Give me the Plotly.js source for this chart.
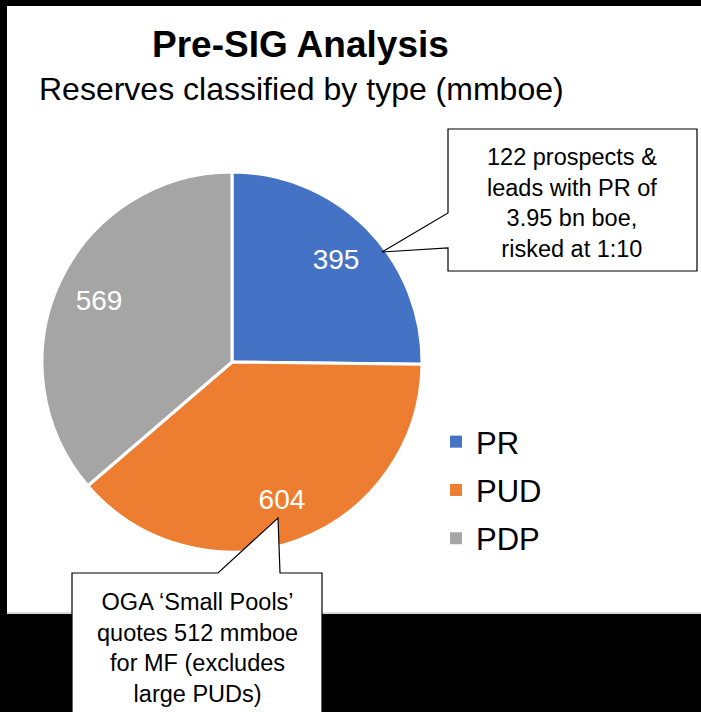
<!DOCTYPE html>
<html>
<head>
<meta charset="utf-8">
<script src="https://cdn.plot.ly/plotly-3.0.1.min.js"></script>
<style>
  html, body { margin: 0; padding: 0; background: #000; }
  #chart { width: 701px; height: 712px; }
</style>
</head>
<body>
<div id="chart"></div>
<script>
const labels = ['PR', 'PUD', 'PDP'];
const values = [395, 604, 569];
const colors = ['#4472C4', '#ED7D31', '#A5A5A5'];

const chartTitle = 'Pre-SIG Analysis';
const chartSubtitle = 'Reserves classified by type (mmboe)';
const notePR = ['122 prospects &', 'leads with PR of', '3.95 bn boe,', 'risked at 1:10'];
const notePUD = ['OGA \u2018Small Pools\u2019', 'quotes 512 mmboe', 'for MF (excludes', 'large PUDs)'];

const W = 701, H = 712;
const fx = (x) => x / W;
const fy = (y) => 1 - y / H;
const path = (pts) => 'M' + pts.map(p => fx(p[0]) + ',' + fy(p[1])).join('L') + 'Z';

const font = 'Liberation Sans, Arial, sans-serif';
const pieDomain = { x: [fx(42), fx(422)], y: [fy(552), fy(172)] };

// the pie itself
const pie = {
  type: 'pie',
  labels: labels,
  values: values,
  sort: false,
  direction: 'clockwise',
  rotation: 0,
  marker: { colors: colors, line: { color: '#fff', width: 3 } },
  textinfo: 'none',
  hoverinfo: 'label+value',
  showlegend: false,
  domain: pieDomain
};

// same pie again, see-through, with a hole so the values sit further out
const pieText = {
  type: 'pie',
  labels: labels,
  values: values,
  sort: false,
  direction: 'clockwise',
  rotation: 0,
  hole: 0.54,
  marker: { colors: ['rgba(0,0,0,0)', 'rgba(0,0,0,0)', 'rgba(0,0,0,0)'], line: { width: 0 } },
  textinfo: 'value',
  textposition: 'inside',
  insidetextorientation: 'horizontal',
  insidetextfont: { color: '#fff', size: 28, family: font },
  hoverinfo: 'skip',
  showlegend: false,
  domain: pieDomain
};

// legend entries
const legendItems = labels.map((l, i) => ({
  type: 'scatter',
  x: [null], y: [null],
  mode: 'markers',
  name: l,
  legendgroup: l,
  marker: { symbol: 'square', size: 12, color: colors[i] },
  hoverinfo: 'skip'
}));

const layout = {
  width: W,
  height: H,
  margin: { l: 0, r: 0, t: 0, b: 0 },
  paper_bgcolor: '#000',
  plot_bgcolor: 'rgba(0,0,0,0)',
  font: { family: font, color: '#000' },
  xaxis: { visible: false },
  yaxis: { visible: false },
  showlegend: true,
  legend: {
    x: fx(436), y: fy(415), xanchor: 'left', yanchor: 'top',
    font: { size: 31, color: '#000', family: font },
    tracegroupgap: 5,
    bgcolor: 'rgba(0,0,0,0)'
  },
  shapes: [
    { type: 'rect', xref: 'paper', yref: 'paper', layer: 'below',
      x0: fx(7), x1: fx(701), y0: fy(614), y1: fy(6),
      fillcolor: '#fff', line: { width: 0 } },
    { type: 'line', xref: 'paper', yref: 'paper', layer: 'below',
      x0: fx(7), x1: fx(701), y0: fy(613), y1: fy(613),
      line: { color: '#d9d9d9', width: 2 } },
    { type: 'path', xref: 'paper', yref: 'paper',
      path: path([[448, 129], [448, 213], [382, 252], [448, 248], [448, 271], [697, 271], [697, 129]]),
      fillcolor: '#fff', line: { color: '#000', width: 1.2 } },
    { type: 'path', xref: 'paper', yref: 'paper',
      path: path([[72, 573], [218, 573], [278, 518], [280, 573], [322, 573], [322, 730], [72, 730]]),
      fillcolor: '#fff', line: { color: '#000', width: 1.2 } }
  ],
  annotations: [
    { xref: 'paper', yref: 'paper', x: fx(300), y: fy(45), xanchor: 'center', yanchor: 'middle', showarrow: false,
      text: '<b>' + chartTitle + '</b>', font: { size: 37, color: '#000', family: font } },
    { xref: 'paper', yref: 'paper', x: fx(301), y: fy(89), xanchor: 'center', yanchor: 'middle', showarrow: false,
      text: chartSubtitle, font: { size: 32, color: '#000', family: font } },
    { xref: 'paper', yref: 'paper', x: fx(572), y: fy(203), xanchor: 'center', yanchor: 'middle', showarrow: false,
      text: notePR.join('<br>'), font: { size: 23.5, color: '#000', family: font } },
    { xref: 'paper', yref: 'paper', x: fx(197), y: fy(648), xanchor: 'center', yanchor: 'middle', showarrow: false,
      text: notePUD.join('<br>'), font: { size: 23.5, color: '#000', family: font } }
  ]
};

Plotly.newPlot('chart', [pie, pieText].concat(legendItems), layout, { displayModeBar: false });
</script>
</body>
</html>
